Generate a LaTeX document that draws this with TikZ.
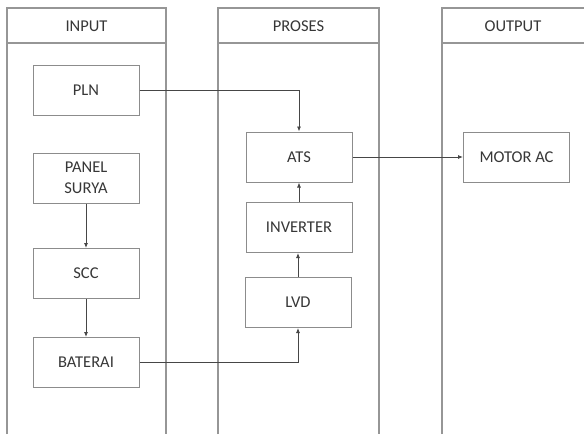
\documentclass[tikz,border=0pt]{standalone}
\usepackage{fontspec}
\setmainfont{Carlito}
\usetikzlibrary{arrows.meta}
\definecolor{lanecol}{RGB}{150,150,150}
\definecolor{boxcol}{RGB}{140,140,140}
\definecolor{txtcol}{RGB}{55,55,55}
\definecolor{linecol}{RGB}{70,70,70}
\tikzset{
  lane/.style={draw=lanecol, line width=1.3pt},
  blk/.style={draw=boxcol, line width=1pt, minimum width=106pt, minimum height=50pt, inner sep=0pt, text=txtcol, font=\fontsize{16.5}{19}\selectfont, align=center},
  hdr/.style={text=txtcol, font=\fontsize{16.5}{19}\selectfont},
  conn/.style={draw=linecol, line width=0.8pt, -{Latex[length=5pt,width=4pt]}}
}
\begin{document}
\begin{tikzpicture}[x=1pt,y=-1pt]
\useasboundingbox (0,0) rectangle (584,434);
\fill[white] (0,0) rectangle (584,434);
% lanes
\draw[lane] (7,434) -- (7,8) -- (166,8) -- (166,434);
\draw[lane] (7,43) -- (166,43);
\draw[lane] (218,434) -- (218,8) -- (379,8) -- (379,434);
\draw[lane] (218,43) -- (379,43);
\draw[lane] (442,434) -- (442,8) -- (584,8);
\draw[lane] (442,43) -- (584,43);
\node[hdr] (h1) at (86.5,26) {INPUT};
\node[hdr] (h2) at (298.5,26) {PROSES};
\node[hdr] (h3) at (513,26) {OUTPUT};
% blocks
\node[blk] (pln) at (86,90) {PLN};
\node[blk] (panel) at (86,178) {PANEL\\[2pt]SURYA};
\node[blk] (scc) at (86,273.5) {SCC};
\node[blk] (bat) at (86,362.5) {BATERAI};
\node[blk] (ats) at (299,157) {ATS};
\node[blk] (inv) at (299,227.5) {INVERTER};
\node[blk] (lvd) at (298,302.5) {LVD};
\node[blk] (motor) at (516.5,157) {MOTOR AC};
% connectors
\draw[conn] (pln.east) -| (ats.north);
\draw[conn] (panel.south) -- (scc.north);
\draw[conn] (scc.south) -- (bat.north);
\draw[conn] (bat.east) -| (lvd.south);
\draw[conn] (lvd.north) -- (lvd.north |- inv.south);
\draw[conn] (inv.north) -- (inv.north -| ats.south) -- (ats.south);
\draw[conn] (ats.east) -- (motor.west);
\end{tikzpicture}
\end{document}
